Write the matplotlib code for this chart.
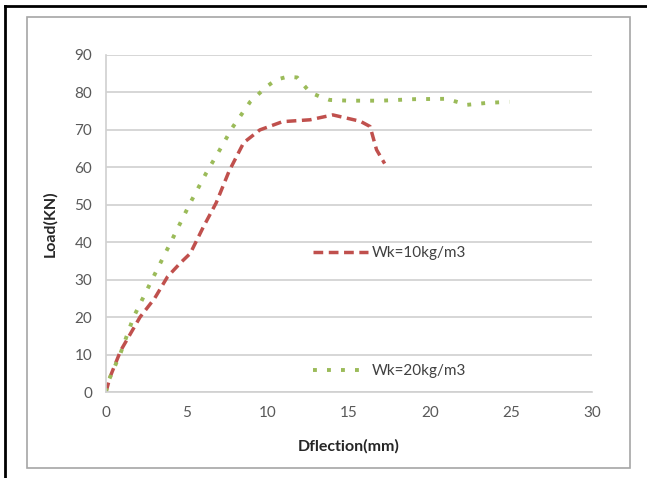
import matplotlib
matplotlib.use("Agg")
import matplotlib.pyplot as plt
from matplotlib.lines import Line2D

# Wk=10kg/m3 series
defl_10 = [0, 0.25, 0.9, 2.1, 3.0, 3.8, 4.6, 5.2, 6.0, 6.8, 7.6, 8.5, 9.5,
           10.9, 12.6, 14.0, 15.0, 15.7, 16.3, 16.7, 17.2]
load_10 = [0, 4, 11, 20, 25, 30.8, 34.5, 37, 44, 50.5, 59, 66.6, 70,
           72.2, 72.7, 74.0, 73.0, 72.3, 70.9, 64.7, 61]

# Wk=20kg/m3 series
defl_20 = [0, 0.1, 0.9, 1.7, 2.9, 4.0, 5.2, 6.2, 7.0, 7.8, 8.9, 9.9, 10.5,
           11.2, 11.8, 12.6, 13.2, 13.8, 15, 17, 19, 21, 22.3, 23.5, 24.9]
load_20 = [0, 2.4, 10.4, 20, 30.5, 40, 50.5, 58.6, 64.5, 70.6, 77.5, 81.5, 83.4,
           84.2, 84.0, 80, 78.9, 78.0, 77.8, 77.8, 78.2, 78.3, 76.7, 77.2, 77.5]

labels = ["Wk=10kg/m3", "Wk=20kg/m3"]
x_ticks = [0, 5, 10, 15, 20, 25, 30]
y_ticks = [0, 10, 20, 30, 40, 50, 60, 70, 80, 90]

RED = "#c0504d"
GREEN = "#9bbb59"
GRID = "#d0d0d0"
TXT = "#595959"

plt.rcParams['font.family'] = ['Lato', 'DejaVu Sans']

fig = plt.figure(figsize=(6.47, 4.78), dpi=100)
W, H = 647, 478

# outer frames
fig.add_artist(Line2D([5 / W, 5 / W], [0, 1 - 6 / H], color="black", lw=2))
fig.add_artist(Line2D([5 / W, 1], [1 - 6 / H, 1 - 6 / H], color="black", lw=2))
fig.add_artist(plt.Rectangle((27 / W, 1 - 468 / H), 603 / W, 451 / H,
                             fill=False, edgecolor="#a6a6a6", lw=1.2))

ax = fig.add_axes([106 / W, 1 - 392 / H, 486 / W, 337 / H])
ax.plot(defl_10, load_10, color=RED, lw=2.5, linestyle=(0, (2.8, 1.6)), label=labels[0])
ax.plot(defl_20, load_20, color=GREEN, lw=2.8, linestyle=(0, (1, 2.6)), label=labels[1])

ax.set_xlim(0, 30)
ax.set_ylim(0, 90)
ax.set_xticks(x_ticks)
ax.set_yticks(y_ticks)
ax.grid(axis="y", color=GRID, lw=1.2)
ax.set_axisbelow(True)
for s in ["top", "right"]:
    ax.spines[s].set_visible(False)
ax.spines["left"].set_color(GRID)
ax.spines["bottom"].set_color(GRID)
ax.spines["left"].set_linewidth(1.2)
ax.spines["bottom"].set_linewidth(1.2)
ax.tick_params(length=0, labelsize=11, labelcolor=TXT, pad=10)

ax.set_xlabel("Dflection(mm)", fontsize=11.5, fontweight="bold", color="#262626", labelpad=14)
ax.set_ylabel("Load(KN)", fontsize=11.5, fontweight="bold", color="#262626", labelpad=12)

ax.legend(loc="upper left", bbox_to_anchor=(313 / W, 1 - 246 / H),
          bbox_transform=fig.transFigure, frameon=False, fontsize=11,
          labelcolor="#404040", handlelength=3.6, handletextpad=0.25,
          labelspacing=6.8, borderpad=0, borderaxespad=0)

fig.savefig("out.png", dpi=100)
